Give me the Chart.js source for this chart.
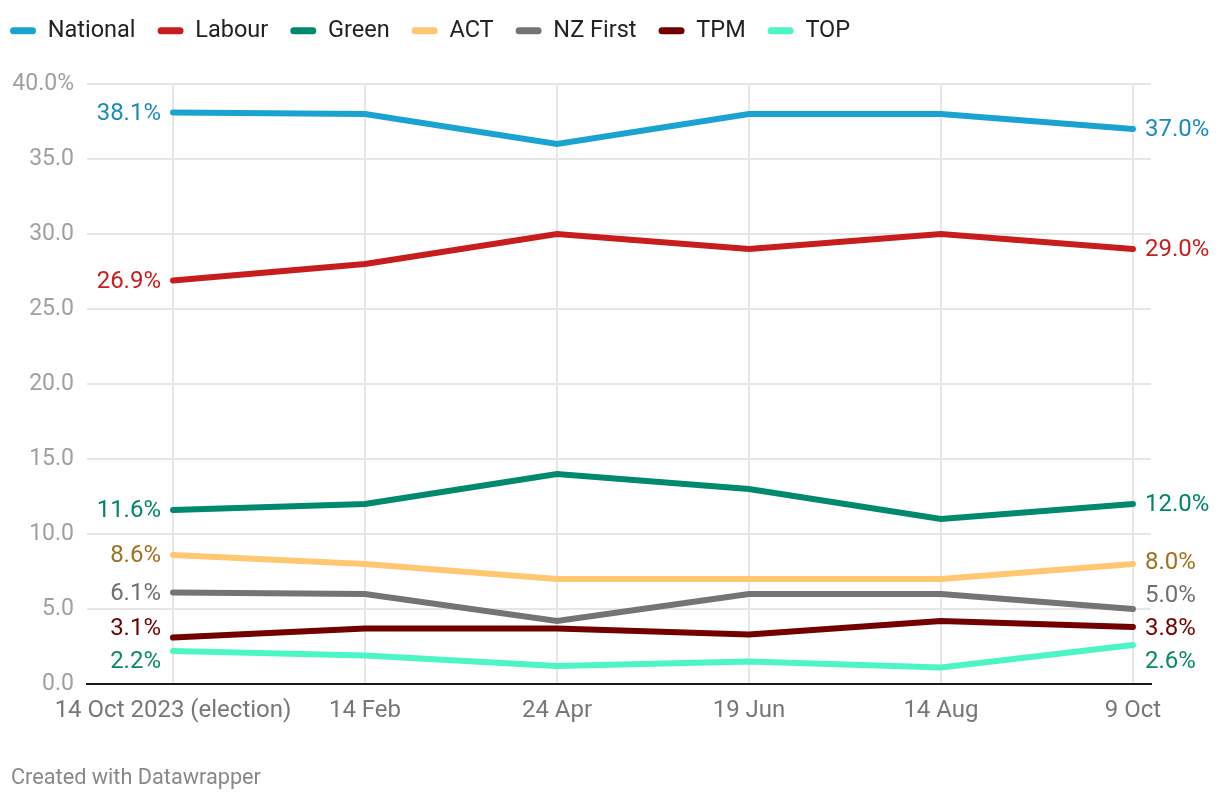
<!DOCTYPE html>
<html>
<head>
<meta charset="utf-8">
<script src="https://cdn.jsdelivr.net/npm/chart.js@4.4.1/dist/chart.umd.min.js"></script>
<style>
  html, body { margin: 0; padding: 0; background: #fff; }
  #wrap { position: relative; width: 1220px; height: 800px; }
  #footer { position: absolute; left: 11px; top: 764px; font: 21.7px Roboto, sans-serif; color: #888; }
</style>
</head>
<body>
<div id="wrap">
  <canvas id="c" width="1220" height="800"></canvas>
  <div id="footer">Created with Datawrapper</div>
</div>
<script>
const categories = ['14 Oct 2023 (election)', '14 Feb', '24 Apr', '19 Jun', '14 Aug', '9 Oct'];
const yTicks = [0, 5, 10, 15, 20, 25, 30, 35, 40];

const national = [38.1, 38.0, 36.0, 38.0, 38.0, 37.0];
const labour   = [26.9, 28.0, 30.0, 29.0, 30.0, 29.0];
const green    = [11.6, 12.0, 14.0, 13.0, 11.0, 12.0];
const act      = [8.6, 8.0, 7.0, 7.0, 7.0, 8.0];
const nzFirst  = [6.1, 6.0, 4.2, 6.0, 6.0, 5.0];
const tpm      = [3.1, 3.7, 3.7, 3.3, 4.2, 3.8];
const topParty = [2.2, 1.9, 1.2, 1.5, 1.1, 2.6];

const seriesNames = ['National', 'Labour', 'Green', 'ACT', 'NZ First', 'TPM', 'TOP'];
const seriesValues = [national, labour, green, act, nzFirst, tpm, topParty];
const lineColors = ['#1aa3d1', '#c81d1d', '#00896d', '#ffc870', '#747474', '#720000', '#4cf5c5'];
const labelColors = ['#1a8bbb', '#c81d1d', '#00866b', '#a0701e', '#707070', '#720000', '#0a8a68'];

const datasets = seriesNames.map((name, i) => ({
  label: name,
  data: seriesValues[i].map((v, j) => ({ x: j, y: v })),
  borderColor: lineColors[i],
  backgroundColor: lineColors[i],
  borderWidth: 6,
  borderCapStyle: 'round',
  borderJoinStyle: 'miter',
  pointRadius: 0,
  pointHoverRadius: 0,
  tension: 0,
  labelColor: labelColors[i]
}));

const legendFitPlugin = {
  id: 'legendFit',
  beforeInit(chart) {
    const lg = chart.legend;
    const orig = lg.fit;
    lg.fit = function () {
      orig.call(this);
      this.height = 84;
    };
  },
  afterLayout(chart) {
    chart.legend.left -= 12;
    chart.legend.top -= 3;
  }
};

const endLabelsPlugin = {
  id: 'endLabels',
  afterDatasetsDraw(chart) {
    const ctx = chart.ctx;
    const xs = chart.scales.x, ys = chart.scales.y;
    const n = categories.length;
    const minGap = 33;
    function layout(items) {
      items.sort((a, b) => a.y - b.y);
      for (let it = 0; it < 200; it++) {
        let moved = false;
        for (let k = 0; k < items.length - 1; k++) {
          const d = items[k + 1].y - items[k].y;
          if (d < minGap - 0.01) {
            const push = (minGap - d) / 2;
            items[k].y -= push;
            items[k + 1].y += push;
            moved = true;
          }
        }
        if (!moved) break;
      }
      return items;
    }
    const sides = [
      { idx: 0, align: 'right', dx: -12 },
      { idx: n - 1, align: 'left', dx: 12 }
    ];
    ctx.save();
    ctx.font = '24px Roboto, sans-serif';
    ctx.textBaseline = 'middle';
    sides.forEach(side => {
      const items = chart.data.datasets.map(ds => {
        const v = ds.data[side.idx].y;
        return { y: ys.getPixelForValue(v), x: xs.getPixelForValue(side.idx), text: v.toFixed(1) + '%', color: ds.labelColor };
      });
      layout(items).forEach(it => {
        ctx.fillStyle = it.color;
        ctx.textAlign = side.align;
        ctx.fillText(it.text, it.x + side.dx, it.y + 1);
      });
    });
    ctx.restore();
  }
};

new Chart(document.getElementById('c'), {
  type: 'line',
  data: { datasets },
  options: {
    responsive: false,
    animation: false,
    events: [],
    layout: { padding: { left: 0, right: 69, top: 0, bottom: 70 } },
    plugins: {
      legend: {
        position: 'top',
        align: 'start',
        labels: {
          font: { family: 'Roboto', size: 23.5 },
          color: '#222',
          boxWidth: 26,
          boxHeight: 7,
          padding: 22,
          useBorderRadius: true,
          borderRadius: 3.5,
          generateLabels(chart) {
            return chart.data.datasets.map((ds, i) => ({
              text: ds.label,
              fillStyle: ds.borderColor,
              strokeStyle: ds.borderColor,
              lineWidth: 0,
              borderRadius: 3.5,
              datasetIndex: i,
              fontColor: '#222'
            }));
          }
        }
      },
      tooltip: { enabled: false }
    },
    scales: {
      x: {
        type: 'linear',
        min: -0.448,
        max: 5.094,
        afterFit(s) { s.height = 46; },
        afterBuildTicks(s) { s.ticks = categories.map((c, i) => ({ value: i })); },
        ticks: {
          includeBounds: false,
          stepSize: 1,
          autoSkip: false,
          maxRotation: 0,
          padding: 13,
          color: '#777',
          font: { family: 'Roboto', size: 24 },
          callback: (v) => categories[v]
        },
        grid: { color: '#e6e6e6', lineWidth: 2, drawTicks: false },
        border: { display: true, color: '#1a1a1a', width: 2 }
      },
      y: {
        min: 0,
        max: 40,
        afterFit(s) { s.width = 87; },
        afterBuildTicks(s) { s.ticks = yTicks.map(v => ({ value: v })); },
        ticks: {
          padding: 13,
          color: '#a0a0a0',
          font: { family: 'Roboto', size: 23 },
          callback: (v) => v === 40 ? '40.0%' : v.toFixed(1)
        },
        grid: { color: '#e6e6e6', lineWidth: 2, drawTicks: false },
        border: { display: false }
      }
    }
  },
  plugins: [legendFitPlugin, endLabelsPlugin]
});
</script>
</body>
</html>
